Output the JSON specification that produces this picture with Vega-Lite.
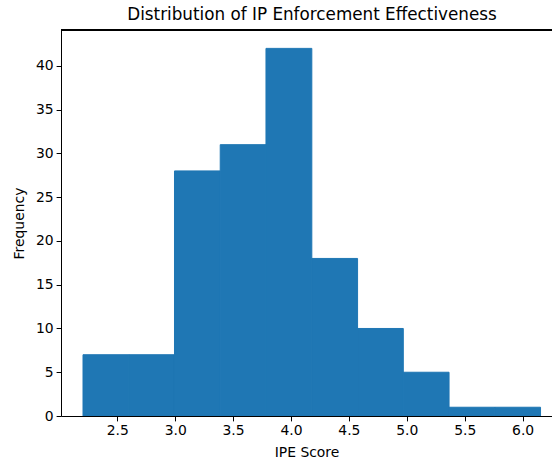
{
  "$schema": "https://vega.github.io/schema/vega-lite/v6.json",
  "width": 491,
  "height": 386,
  "autosize": "none",
  "padding": {"left": 61, "top": 30, "right": 0, "bottom": 45},
  "background": "white",
  "title": {
    "text": "Distribution of IP Enforcement Effectiveness",
    "font": "DejaVu Sans",
    "fontSize": 16.8,
    "fontWeight": "normal",
    "color": "#000000",
    "anchor": "middle",
    "frame": "group",
    "dx": 5.5,
    "offset": 6
  },
  "config": {
    "view": {"stroke": null},
    "axis": {
      "labelFont": "DejaVu Sans",
      "labelFontSize": 13.9,
      "labelColor": "#000000",
      "titleFont": "DejaVu Sans",
      "titleFontSize": 13.9,
      "titleFontWeight": "normal",
      "titleColor": "#000000",
      "domainColor": "#000000",
      "domainWidth": 1,
      "tickColor": "#000000",
      "tickSize": 4.9,
      "tickWidth": 1,
      "labelPadding": 3,
      "grid": false
    }
  },
  "data": {
    "values": [
      {"bin_start": 2.204, "bin_end": 2.599, "count": 7},
      {"bin_start": 2.599, "bin_end": 2.994, "count": 7},
      {"bin_start": 2.994, "bin_end": 3.389, "count": 28},
      {"bin_start": 3.389, "bin_end": 3.784, "count": 31},
      {"bin_start": 3.784, "bin_end": 4.180, "count": 42},
      {"bin_start": 4.180, "bin_end": 4.575, "count": 18},
      {"bin_start": 4.575, "bin_end": 4.970, "count": 10},
      {"bin_start": 4.970, "bin_end": 5.365, "count": 5},
      {"bin_start": 5.365, "bin_end": 5.760, "count": 1},
      {"bin_start": 5.760, "bin_end": 6.155, "count": 1}
    ]
  },
  "layer": [
    {
      "mark": {"type": "rect", "color": "#1f77b4", "stroke": "#1f77b4", "strokeWidth": 1, "clip": true},
      "encoding": {
        "x": {
          "field": "bin_start",
          "type": "quantitative",
          "scale": {"domain": [2.014, 6.254], "nice": false, "zero": false},
          "axis": {
            "title": "IPE Score",
            "values": [2.5, 3.0, 3.5, 4.0, 4.5, 5.0, 5.5, 6.0],
            "format": ".1f",
            "titlePadding": 8
          }
        },
        "x2": {"field": "bin_end"},
        "y": {
          "field": "count",
          "type": "quantitative",
          "scale": {"domain": [0, 44.1], "nice": false},
          "axis": {
            "title": "Frequency",
            "values": [0, 5, 10, 15, 20, 25, 30, 35, 40],
            "titlePadding": 9
          }
        },
        "y2": {"datum": 0}
      }
    },
    {
      "mark": {"type": "rule", "color": "#000000", "strokeWidth": 1},
      "encoding": {
        "y": {"datum": 44.1, "type": "quantitative"}
      }
    }
  ]
}
